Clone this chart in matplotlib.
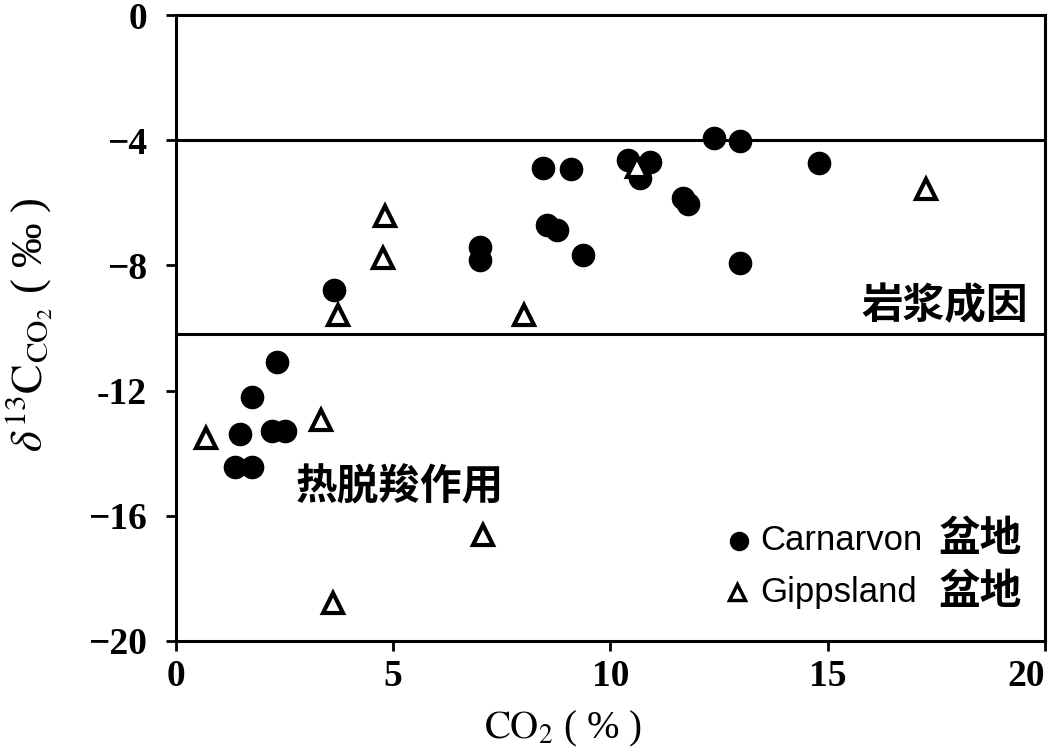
import matplotlib

matplotlib.use("Agg")
import matplotlib.pyplot as plt

# Carnarvon basin (filled circles)
carn_co2 = [2.32, 1.75, 1.47, 2.21, 2.51, 1.36, 1.75, 3.64, 7.0, 7.0, 8.45, 9.09,
            8.54, 8.77, 9.37, 10.4, 10.9, 10.68, 11.67, 11.78, 12.38, 12.98, 14.8, 12.98]
carn_d13c = [-11.09, -12.2, -13.4, -13.3, -13.3, -14.45, -14.45, -8.8, -7.4, -7.83, -4.89, -4.92,
             -6.71, -6.87, -7.67, -4.63, -4.7, -5.2, -5.85, -6.04, -3.93, -4.03, -4.73, -7.92]

# Gippsland basin (open triangles)
gipp_co2 = [0.69, 3.34, 7.07, 3.61, 3.73, 4.81, 4.76, 8.01, 10.61, 17.26]
gipp_d13c = [-13.5, -12.95, -16.6, -18.8, -9.58, -6.42, -7.76, -9.58, -4.86, -5.56]

# boundaries between thermal decarboxylation / magmatic origin
bound_lines = [-4.0, -10.2]

x_ticks = [0, 5, 10, 15, 20]
y_ticks = [-20, -16, -12, -8, -4, 0]
y_tick_labels = ["\u221220", "\u221216", "-12", "\u22128", "\u22124", "0"]

cjk = ["Noto Sans CJK SC", "DejaVu Sans"]
serif = ["Liberation Serif", "DejaVu Serif"]
sans = ["Liberation Sans", "DejaVu Sans"]
plt.rcParams["mathtext.fontset"] = "stix"

fig = plt.figure(figsize=(10.62, 7.55), dpi=100, facecolor="white")
ax = fig.add_axes([0.1657, 0.151, 0.8183, 0.829])

for yv in bound_lines:
    ax.axhline(yv, color="black", linewidth=2.2, zorder=1)

ax.plot(carn_co2, carn_d13c, linestyle="none", marker="o", markersize=16,
        color="black", zorder=3)
ax.plot(gipp_co2, gipp_d13c, linestyle="none", marker="^", markersize=15,
        markerfacecolor="white", markeredgecolor="black", markeredgewidth=3, zorder=4)

ax.set_xlim(0, 20)
ax.set_ylim(-20, 0)
ax.set_xticks(x_ticks)
xlabels = ax.set_xticklabels([str(v) for v in x_ticks], family=serif, fontsize=27,
                             weight="bold")
xlabels[-1].set_horizontalalignment("right")  # last label sits inside the frame
ax.set_yticks(y_ticks)
ax.set_yticklabels(y_tick_labels, family=serif, fontsize=27, weight="bold")
ax.tick_params(axis="y", direction="out", length=7, width=2, pad=14)
ax.tick_params(axis="x", direction="out", length=7, width=2, pad=6)
for sp in ax.spines.values():
    sp.set_linewidth(2.2)

ax.text(19.6, -9.3, "岩浆成因", family=cjk, fontsize=30, weight="bold",
        ha="right", va="center")
ax.text(2.75, -15.1, "热脱羧作用", family=cjk, fontsize=30, weight="bold",
        ha="left", va="center")

# legend drawn by hand to keep the mixed Latin / CJK layout
ax.plot([12.95], [-16.8], linestyle="none", marker="o", markersize=13, color="black")
ax.plot([12.9], [-18.45], linestyle="none", marker="^", markersize=12,
        markerfacecolor="white", markeredgecolor="black", markeredgewidth=2.5)
ax.text(13.45, -16.8, "Carnarvon", family=sans, fontsize=25, ha="left", va="center")
ax.text(17.55, -16.75, "盆地", family=cjk, fontsize=30, weight="bold",
        ha="left", va="center")
ax.text(13.45, -18.45, "Gippsland", family=sans, fontsize=25, ha="left", va="center")
ax.text(17.55, -18.45, "盆地", family=cjk, fontsize=30, weight="bold",
        ha="left", va="center")

fig.text(0.028, 0.57, r"$\delta^{13}\mathrm{C}_{\mathrm{CO}_2}$ ( ‰ )", rotation=90,
         family=serif, fontsize=32, ha="center", va="center")
fig.text(0.53, 0.035, r"$\mathrm{CO}_2$ ( % )", family=serif, fontsize=28,
         ha="center", va="center")

fig.savefig("out.png", dpi=100, facecolor="white")
